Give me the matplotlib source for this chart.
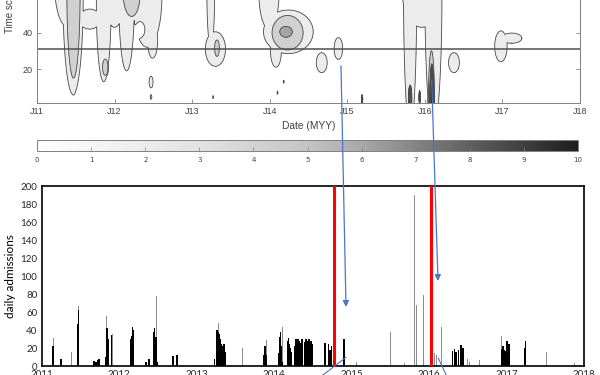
import numpy as np
import matplotlib
matplotlib.use("Agg")
import matplotlib.pyplot as plt
from matplotlib.colors import LinearSegmentedColormap, Normalize
from matplotlib.cm import ScalarMappable
from matplotlib.patches import FancyArrowPatch

# ---------------- top panel: time-scale map, outlined as elliptic patches -------------
# centre (year, scale), half sizes, and the contour level each outline belongs to
blob_cx = [11.465, 11.47, 11.40, 11.68, 11.86, 11.88, 12.00, 12.155, 12.42, 12.49, 12.22,
           12.47, 12.47, 13.24, 13.30, 13.32, 13.27, 13.99, 14.24, 14.08, 14.23, 14.21,
           14.18, 14.10, 14.67, 14.885, 15.191, 15.81, 16.11, 15.96, 16.085, 16.09, 15.81,
           15.932, 16.375, 16.98, 17.12]
blob_cy = [60, 62, 65, 47.5, 55, 21, 58, 58, 60, 36, 62,
           12.8, 4.6, 62, 31, 31.5, 4.5, 62, 40.5, 30, 40, 40.5,
           13, 7, 23.5, 31.3, 3.2, 62, 62, 62, 0, 0, 4,
           4.5, 23.5, 32.5, 37]
blob_rx = [.13, .085, .17, .14, .095, .035, .12, .10, .19, .065, .11,
           .025, .01, .05, .13, .03, .006, .13, .32, .07, .20, .08,
           .006, .006, .07, .055, .005, .085, .11, .25, .04, .018, .015,
           .005, .07, .08, .13]
blob_ry = [54, 47, 22, 5.5, 42, 4.5, 15, 39, 28, 10, 13,
           3.2, 1.3, 30, 9.5, 4.5, .8, 20, 12, 9, 9.5, 3,
           .8, .8, 5.5, 6, 1.8, 75, 75, 19, 30, 15, 5,
           2.5, 5.5, 8.5, 2.8]
blob_lev = [1, 2, 1, 1, 1, 2, 1, 1, 1, 1, 2,
            1, 1, 1, 1, 2, 1, 1, 1, 1, 2, 3,
            1, 1, 1, 1, 5, 1, 1, 1, 2, 9, 6,
            5, 1, 1, 1]
hole_cx = [12.33]
hole_cy = [41.8]
hole_rx = [.06]
hole_ry = [4.3]
scale_line = 31
year_ticks = [2011, 2012, 2013, 2014, 2015, 2016, 2017, 2018]
top_labels = ["J11", "J12", "J13", "J14", "J15", "J16", "J17", "J18"]

# ---------------- bottom panel: daily admissions -------------
blk_dates = [2011.15, 2011.245, 2011.25, 2011.465, 2011.475, 2011.68, 2011.70, 2011.72, 2011.745,
             2011.835, 2011.845, 2011.855, 2011.865, 2011.905, 2012.155, 2012.165, 2012.175,
             2012.185, 2012.35, 2012.385, 2012.445, 2012.455, 2012.465, 2012.475, 2012.495,
             2012.69, 2012.695, 2012.745, 2012.75, 2013.23, 2013.265, 2013.275, 2013.29,
             2013.30, 2013.315, 2013.33, 2013.345, 2013.355, 2013.37, 2013.87, 2013.88,
             2013.895, 2014.06, 2014.075, 2014.085, 2014.095, 2014.11, 2014.175, 2014.185,
             2014.195, 2014.21, 2014.22, 2014.27, 2014.285, 2014.295, 2014.31, 2014.33,
             2014.345, 2014.36, 2014.40, 2014.415, 2014.43, 2014.45, 2014.465, 2014.48,
             2014.49, 2014.655, 2014.665, 2014.70, 2014.72, 2014.74, 2014.895, 2014.905,
             2016.30, 2016.33, 2016.345, 2016.38, 2016.41, 2016.425, 2016.44, 2016.94,
             2016.955, 2016.965, 2016.985, 2017.005, 2017.02, 2017.035, 2017.235, 2017.245]
blk_vals = [22, 6, 7.5, 47, 62, 6, 5, 7, 8,
            10, 42, 30, 18, 34, 30, 33, 43,
            40, 5, 8, 38, 42, 30, 32, 5,
            9, 11, 12, 9, 8, 40, 38, 36,
            30, 25, 15, 22, 24, 16, 12, 22,
            12, 15, 32, 38, 22, 5, 28, 31,
            24, 20, 16, 22, 30, 27, 30, 28,
            26, 30, 27, 30, 28, 30, 22, 28,
            25, 26, 20, 24, 18, 22, 24, 30,
            17, 19, 16, 18, 23, 17, 20, 19,
            22, 18, 17, 28, 22, 24, 20, 28]
gry_dates = [2011.155, 2011.385, 2011.48, 2011.84, 2011.91, 2012.485, 2012.99, 2013.1,
             2013.28, 2013.38, 2013.59, 2013.905, 2014.105, 2014.89, 2015.06, 2015.20,
             2015.50, 2015.68, 2015.81, 2015.835, 2015.93, 2016.07, 2016.09, 2016.10,
             2016.165, 2016.50, 2016.52, 2016.65, 2016.94, 2017.52, 2017.875]
gry_vals = [31, 16, 67, 56, 36, 78, 1.5, 1,
            48, 53, 20, 29, 44, 31, 5, 64,
            38, 3, 190, 68, 79, 15, 205, 12,
            44, 8, 4, 7, 33, 16, 3]
event_dates = [2014.78, 2016.03]
adm_ticks = list(range(0, 201, 20))

# ---------------- build the field from the outlines ----------------
xg = np.linspace(2011, 2018, 2801)
yg = np.linspace(0, 64, 321)
X, Y = np.meshgrid(xg, yg)
Z = np.zeros_like(X)
for cx, cy, rx, ry, lev in zip(blob_cx, blob_cy, blob_rx, blob_ry, blob_lev):
    r = np.sqrt(((X - 2000 - cx) / rx) ** 2 + ((Y - cy) / ry) ** 2)
    s = min(0.35, np.log((lev + 0.9) / lev))
    Z = np.maximum(Z, lev * np.exp(s * (1 - r ** 6)))
for cx, cy, rx, ry in zip(hole_cx, hole_cy, hole_rx, hole_ry):
    r = np.sqrt(((X - 2000 - cx) / rx) ** 2 + ((Y - cy) / ry) ** 2)
    Z = Z * (1 - 0.75 * np.exp(-r ** 6))

fig = plt.figure(figsize=(6, 3.75), dpi=100)
gray_txt = "#404040"

ax1 = fig.add_axes([0.0617, 0.7245, 0.905, 0.3044])
band_colors = ["#ececec", "#d0d0d0", "#a4a4a4", "#8a8a8a", "#707070", "#585858",
               "#404040", "#303030", "#222222", "#111111"]
ax1.contourf(X, Y, Z, levels=[1, 2, 3, 4, 5, 6, 7, 8, 9, 10, 100], colors=band_colors)
ax1.contour(X, Y, Z, levels=range(1, 11), colors="#4a4a4a", linewidths=0.6)
ax1.axhline(scale_line, color="#505050", lw=1.1)
ax1.set_xlim(2011, 2018)
ax1.set_ylim(1.1, 64)
ax1.set_xticks(year_ticks)
ax1.set_xticklabels(top_labels)
ax1.set_yticks([20, 40, 60])
ax1.tick_params(direction="in", length=3, width=0.6, color="#808080", labelsize=6.5,
                labelcolor=gray_txt, right=True, pad=3)
for s in ax1.spines.values():
    s.set_color("#808080")
    s.set_linewidth(0.7)
for lab in ax1.get_xticklabels() + ax1.get_yticklabels():
    lab.set_family("Liberation Sans")
ax1.set_xlabel("Date (MYY)", fontsize=7.4, color=gray_txt, family="Liberation Sans",
               labelpad=3)
fig.text(10 / 600, 1 - 33 / 375, "Time scale (days)", rotation=90, ha="center",
         va="bottom", fontsize=7, color=gray_txt, family="Liberation Sans")

# colorbar
cax = fig.add_axes([0.0617, 0.5973, 0.9017, 0.0293])
cb_cmap = LinearSegmentedColormap.from_list(
    "g", [(0, "#ffffff"), (0.3, "#e2e2e2"), (0.5, "#c4c4c4"), (0.6, "#a8a8a8"),
          (0.8, "#606060"), (1, "#1e1e1e")])
cb = fig.colorbar(ScalarMappable(norm=Normalize(0, 10), cmap=cb_cmap), cax=cax,
                  orientation="horizontal")
cb.set_ticks(range(11))
cax.tick_params(direction="in", length=3, width=0.5, color="#808080", labelsize=5,
                labelcolor=gray_txt, pad=4)
cb.outline.set_edgecolor("#808080")
cb.outline.set_linewidth(0.7)

# bottom bar chart
ax2 = fig.add_axes([0.0692, 0.024, 0.9042, 0.4787])
ax2.bar(gry_dates, gry_vals, width=0.012, color="#8c8c8c", lw=0, zorder=2)
ax2.bar(blk_dates, blk_vals, width=0.02, color="black", lw=0, zorder=3)
for d in event_dates:
    ax2.axvline(d, color="red", lw=2.2, zorder=4)
ax2.set_xlim(2011, 2018)
ax2.set_ylim(0, 200)
ax2.set_yticks(adm_ticks)
ax2.set_xticks(year_ticks)
ax2.tick_params(length=0, labelsize=7, labelcolor="#262626", pad=3)
for lab in ax2.get_xticklabels() + ax2.get_yticklabels():
    lab.set_family("Lato")
for s in ax2.spines.values():
    s.set_color("black")
    s.set_linewidth(1.2)
ax2.set_ylabel("daily admissions", fontsize=8.5, family="Lato", labelpad=3)


# blue annotation arrows across the panels (positions in image pixels)
def fpt(x, y):
    return (x / 600, 1 - y / 375)


blue = "#4a76c8"
for p0, p1 in [((341, 66), (346, 307)), ((431.7, 80), (438, 281))]:
    fig.add_artist(FancyArrowPatch(fpt(*p0), fpt(*p1), transform=fig.transFigure,
                                   arrowstyle="-|>", mutation_scale=9, color=blue,
                                   lw=0.9, shrinkA=0, shrinkB=0, zorder=10))
for p0, p1 in [((321.7, 376), (346, 357.3)), ((438.3, 358.3), (446.7, 376))]:
    fig.add_artist(FancyArrowPatch(fpt(*p0), fpt(*p1), transform=fig.transFigure,
                                   arrowstyle="-", color=blue, lw=0.8,
                                   shrinkA=0, shrinkB=0, zorder=10))

fig.savefig("out.png", dpi=100)
